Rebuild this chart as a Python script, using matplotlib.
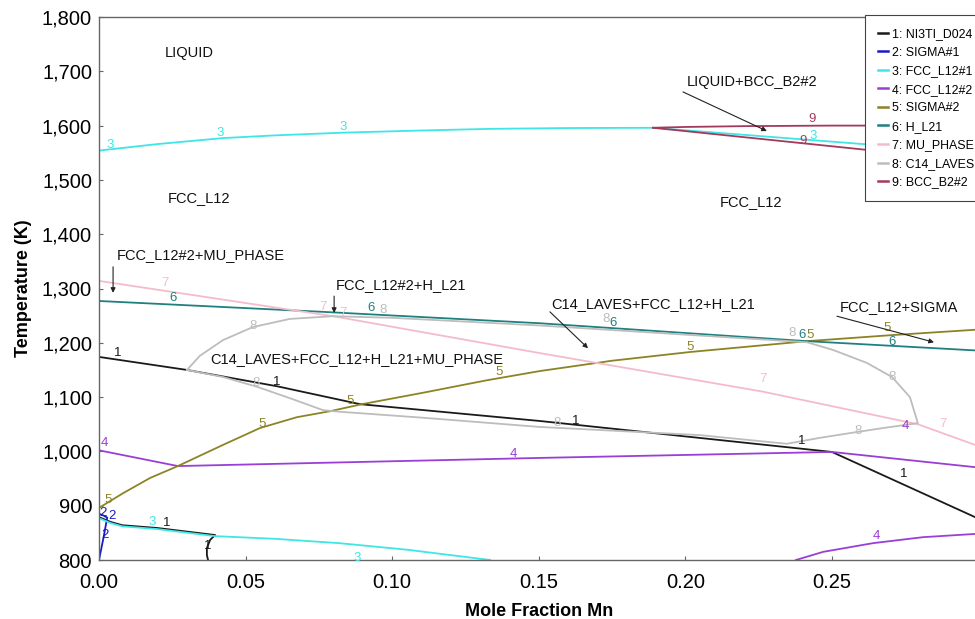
import matplotlib
matplotlib.use("Agg")
import matplotlib.pyplot as plt
from matplotlib.ticker import FuncFormatter

plt.rcParams['font.family'] = ['Liberation Sans', 'DejaVu Sans']

# 相图数据: 摩尔分数 Mn 与温度 K
c1_up_x = [0.0, 0.030, 0.0607, 0.089, 0.1504, 0.25, 0.2988]
c1_up_t = [1174, 1150, 1120, 1087, 1056, 999, 879]
c1_lo_x = [0.0, 0.004, 0.008, 0.0198, 0.0396, 0.0379, 0.0368, 0.0368, 0.0372]
c1_lo_t = [879, 870, 864, 859, 846, 837, 822, 809, 800]

c2_x = [0.0, 0.0015, 0.0028, 0.0015, 0.0]
c2_t = [800, 840, 878, 882, 885]

c3_up_x = [0.0, 0.02, 0.0423, 0.06, 0.0832, 0.11, 0.1334, 0.16, 0.189, 0.2606, 0.2988]
c3_up_t = [1554, 1566, 1577, 1582, 1587, 1591, 1594, 1595.5, 1596, 1566, 1550]
c3_lo_x = [0.0, 0.004, 0.008, 0.0198, 0.0396, 0.06, 0.082, 0.105, 0.1334]
c3_lo_t = [877, 868, 862, 857, 844, 839, 831, 819, 800]

c4_x = [0.0, 0.0269, 0.1504, 0.25, 0.2988]
c4_t = [1002, 973, 988, 999, 971]
c4_lo_x = [0.2377, 0.247, 0.264, 0.281, 0.2988]
c4_lo_t = [800, 815, 831, 842, 848]

c5_x = [0.0, 0.0082, 0.0174, 0.0269, 0.0423, 0.0549, 0.0675, 0.0788, 0.0897,
        0.1105, 0.1323, 0.1504, 0.175, 0.2015, 0.2415, 0.27, 0.2988]
c5_t = [896, 923, 951, 973, 1012, 1043, 1063, 1074, 1087,
        1108, 1131, 1148, 1167, 1183, 1203, 1214, 1224]

c6_x = [0.0, 0.0764, 0.1504, 0.2415, 0.2988]
c6_t = [1277, 1257, 1236, 1203, 1186]

c7_x = [0.0, 0.0798, 0.1504, 0.2265, 0.2793, 0.2988]
c7_t = [1314, 1249, 1181, 1110, 1050, 1012]

c8_x = [0.0300, 0.0344, 0.0423, 0.0525, 0.0651, 0.0798, 0.10, 0.15, 0.20, 0.2415,
        0.2503, 0.2619, 0.2705, 0.2766, 0.2793, 0.2674, 0.2589, 0.2459, 0.2346,
        0.205, 0.1504, 0.1105, 0.0822, 0.0764, 0.0651, 0.0539, 0.0423, 0.0300]
c8_t = [1150, 1176, 1205, 1229, 1244, 1249, 1246, 1232, 1215, 1201,
        1187, 1163, 1137, 1100, 1052, 1043, 1036, 1025, 1014,
        1030, 1045, 1062, 1073, 1076, 1098, 1119, 1137, 1150]

c9_up_x = [0.189, 0.20, 0.22, 0.25, 0.2988]
c9_up_t = [1596, 1597.5, 1599, 1600, 1600]
c9_lo_x = [0.189, 0.2606, 0.2988]
c9_lo_t = [1596, 1556, 1535]

legend_labels = ['1: NI3TI_D024', '2: SIGMA#1', '3: FCC_L12#1', '4: FCC_L12#2',
                 '5: SIGMA#2', '6: H_L21', '7: MU_PHASE', '8: C14_LAVES', '9: BCC_B2#2']
colors = ['#1a1a1a', '#1a1acc', '#3ee6e6', '#9a3fd6', '#8c8424',
          '#1f8080', '#f4bccb', '#bdbdbd', '#a33a5c']

# 曲线编号标注
num_labels = [
    ('3', 0.0038, 1564), ('3', 0.0413, 1586), ('3', 0.0832, 1597), ('3', 0.2435, 1581),
    ('3', 0.0181, 870), ('3', 0.088, 803),
    ('9', 0.2432, 1612), ('9', 0.2401, 1572),
    ('7', 0.0225, 1310), ('7', 0.0764, 1266), ('7', 0.0832, 1255), ('7', 0.2265, 1133),
    ('7', 0.2879, 1050),
    ('6', 0.0252, 1283), ('6', 0.0928, 1264), ('6', 0.1753, 1236), ('6', 0.2398, 1214),
    ('6', 0.2705, 1201),
    ('8', 0.0525, 1231), ('8', 0.0535, 1126), ('8', 0.0969, 1260), ('8', 0.1729, 1244),
    ('8', 0.2364, 1218), ('8', 0.2705, 1137), ('8', 0.2589, 1038), ('8', 0.1562, 1052),
    ('5', 0.0032, 911), ('5', 0.0556, 1050), ('5', 0.0856, 1093), ('5', 0.1364, 1146),
    ('5', 0.2016, 1192), ('5', 0.2425, 1214), ('5', 0.2688, 1227),
    ('4', 0.002, 1015), ('4', 0.1415, 995), ('4', 0.2749, 1047), ('4', 0.2653, 844),
    ('1', 0.0065, 1181), ('1', 0.0607, 1128), ('1', 0.1627, 1056), ('1', 0.2398, 1019),
    ('1', 0.2746, 958), ('1', 0.0232, 868), ('1', 0.0372, 826),
    ('2', 0.0014, 886), ('2', 0.0043, 881), ('2', 0.002, 846),
]

# 相区文字
region_texts = [
    ('LIQUID', 0.0307, 1734, 'center'),
    ('FCC_L12', 0.0341, 1467, 'center'),
    ('FCC_L12', 0.2224, 1459, 'center'),
    ('C14_LAVES+FCC_L12+H_L21+MU_PHASE', 0.0379, 1170, 'left'),
]
# 带箭头的标注: 文字, 文字位置, 箭头起点, 箭头终点
arrow_texts = [
    ('FCC_L12#2+MU_PHASE', (0.0061, 1362), (0.0048, 1340), (0.0048, 1292)),
    ('FCC_L12#2+H_L21', (0.0808, 1306), (0.0802, 1286), (0.0802, 1255)),
    ('C14_LAVES+FCC_L12+H_L21', (0.1542, 1271), (0.1538, 1257), (0.1668, 1190)),
    ('FCC_L12+SIGMA', (0.2527, 1266), (0.2517, 1249), (0.2848, 1201)),
    ('LIQUID+BCC_B2#2', (0.2005, 1680), (0.1992, 1662), (0.2278, 1590)),
]

fig = plt.figure(figsize=(9.75, 6.19), dpi=100)
ax = fig.add_axes([99 / 975, 1 - 560 / 619, 881 / 975, 543 / 619])

lw = 1.3
series = [
    (0, [(c1_up_x, c1_up_t), (c1_lo_x, c1_lo_t)]),
    (1, [(c2_x, c2_t)]),
    (2, [(c3_up_x, c3_up_t), (c3_lo_x, c3_lo_t)]),
    (3, [(c4_x, c4_t), (c4_lo_x, c4_lo_t)]),
    (4, [(c5_x, c5_t)]),
    (5, [(c6_x, c6_t)]),
    (6, [(c7_x, c7_t)]),
    (7, [(c8_x, c8_t)]),
    (8, [(c9_up_x, c9_up_t), (c9_lo_x, c9_lo_t)]),
]
handles = []
for i, parts in series:
    for k, (xs, ts) in enumerate(parts):
        h, = ax.plot(xs, ts, color=colors[i], lw=lw)
        if k == 0:
            handles.append(h)

for txt, x, t in num_labels:
    ax.text(x, t, txt, color=colors[int(txt) - 1], fontsize=9.5,
            ha='center', va='center')

for txt, x, t, ha in region_texts:
    ax.text(x, t, txt, fontsize=10.5, ha=ha, va='center', color='#111111')

for txt, tpos, a0, a1 in arrow_texts:
    ax.text(tpos[0], tpos[1], txt, fontsize=10.5, ha='left', va='center', color='#111111')
    ax.annotate('', xy=a1, xytext=a0,
                arrowprops=dict(arrowstyle='-|>', lw=0.8, color='#222222',
                                mutation_scale=7, shrinkA=0, shrinkB=0))

ax.set_xlim(0, 0.3005)
ax.set_ylim(800, 1800)
ax.set_xticks([0.0, 0.05, 0.10, 0.15, 0.20, 0.25])
ax.set_yticks(range(800, 1801, 100))
ax.xaxis.set_major_formatter(FuncFormatter(lambda v, p: f"{v:.2f}"))
ax.yaxis.set_major_formatter(FuncFormatter(lambda v, p: f"{v:,.0f}"))
ax.tick_params(labelsize=14.5, direction='in', length=3, color='#666666')
ax.tick_params(axis='x', pad=9)
ax.tick_params(axis='y', pad=5)
for s in ax.spines.values():
    s.set_color('#666666')
    s.set_linewidth(1.0)

ax.set_xlabel('Mole Fraction Mn', fontsize=13, fontweight='bold', labelpad=8)
ax.set_ylabel('Temperature (K)', fontsize=13, fontweight='bold', labelpad=7)

leg = ax.legend(handles, legend_labels, loc='upper left',
                bbox_to_anchor=(865 / 975, 1 - 15 / 619), bbox_transform=fig.transFigure,
                fontsize=8.9, handlelength=0.8, handletextpad=0.3, labelspacing=0.53,
                borderpad=1.05, borderaxespad=0, frameon=True, fancybox=False,
                framealpha=1, edgecolor='#444444')
leg.get_frame().set_linewidth(0.8)
for line in leg.get_lines():
    line.set_linewidth(1.8)

fig.savefig('out.png', dpi=100)
